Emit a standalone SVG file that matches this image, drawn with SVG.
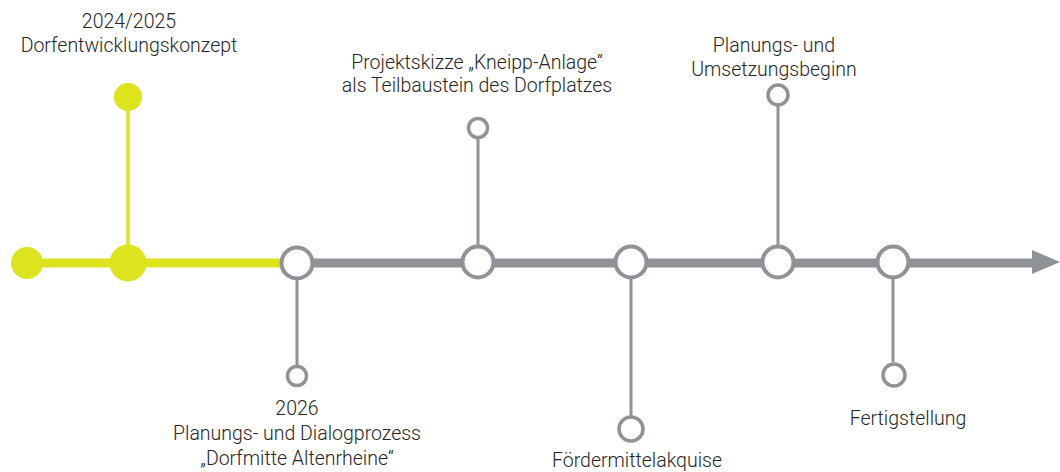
<svg xmlns="http://www.w3.org/2000/svg" width="1060" height="472" viewBox="0 0 1060 472">
<style>
.t{font-family:Roboto,"Liberation Sans",sans-serif;font-size:19.5px;font-weight:300;fill:#262626;text-anchor:middle}
.g{stroke:#8f9297;fill:none}
.big{stroke:#8f9297;stroke-width:4;fill:#fff}
.sm{stroke:#8f9297;stroke-width:3.5;fill:#fff}
.y{fill:#dde31c}
</style>
<rect width="1060" height="472" fill="#fff"/>
<g id="connectors">
<line x1="26" y1="263" x2="290" y2="263" stroke="#dde31c" stroke-width="9"/>
<line x1="128" y1="97" x2="128" y2="263" stroke="#dde31c" stroke-width="3.5"/>
<line x1="297" y1="263" x2="1034" y2="263" class="g" stroke-width="9"/>
<polygon points="1032,250 1060,262 1032,274" fill="#8f9297"/>
<line x1="297" y1="263" x2="297" y2="366" class="g" stroke-width="3"/>
<line x1="478" y1="139" x2="478" y2="263" class="g" stroke-width="3"/>
<line x1="631" y1="263" x2="631" y2="416" class="g" stroke-width="3"/>
<line x1="778" y1="106" x2="778" y2="263" class="g" stroke-width="3"/>
<line x1="893" y1="263" x2="893" y2="362" class="g" stroke-width="3"/>
</g>
<g id="start"><circle cx="27" cy="263" r="16" class="y"/></g>
<g id="n2024">
<circle cx="128" cy="263" r="18.5" class="y"/>
<circle cx="128" cy="97" r="14" class="y"/>
<text class="t" x="129" y="28">2024/2025</text>
<text class="t" x="129" y="52">Dorfentwicklungskonzept</text>
</g>
<g id="n2026">
<circle cx="297" cy="263" r="15.5" class="big"/>
<circle cx="297" cy="376" r="9.5" class="sm"/>
<text class="t" x="297" y="415">2026</text>
<text class="t" x="297" y="440">Planungs- und Dialogprozess</text>
<text class="t" x="297" y="465">„Dorfmitte Altenrheine“</text>
</g>
<g id="kneipp">
<circle cx="478" cy="262" r="15.5" class="big"/>
<circle cx="478" cy="128" r="9.5" class="sm"/>
<text class="t" x="477" y="69">Projektskizze „Kneipp-Anlage“</text>
<text class="t" x="477" y="92">als Teilbaustein des Dorfplatzes</text>
</g>
<g id="foerder">
<circle cx="631" cy="262" r="15.5" class="big"/>
<circle cx="631" cy="429" r="12" class="sm"/>
<text class="t" x="637" y="467">Fördermittelakquise</text>
</g>
<g id="umsetzung">
<circle cx="778" cy="262" r="15.5" class="big"/>
<circle cx="778" cy="95" r="10" class="sm"/>
<text class="t" x="774" y="52">Planungs- und</text>
<text class="t" x="774" y="76">Umsetzungsbeginn</text>
</g>
<g id="fertig">
<circle cx="893" cy="262" r="15.5" class="big"/>
<circle cx="894" cy="375" r="11" class="sm"/>
<text class="t" x="908" y="425">Fertigstellung</text>
</g>
</svg>
